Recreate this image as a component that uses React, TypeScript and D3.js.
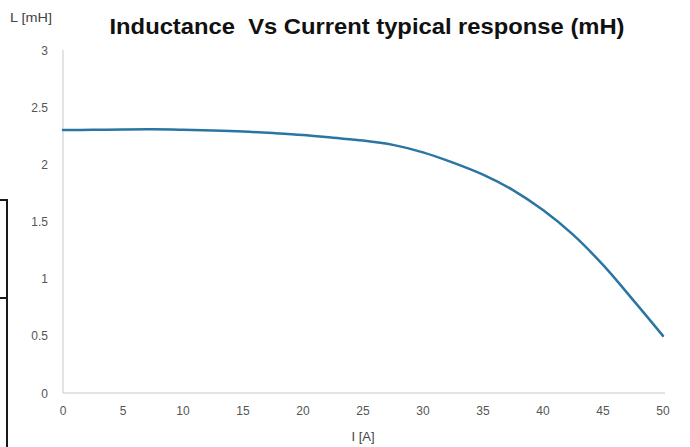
import React from "react";
import * as d3 from "d3";

const currentA = [0, 2.5, 5, 7.5, 10, 12.5, 15, 17.5, 20, 22.5, 25, 27.5, 30, 32.5, 35, 37.5, 40, 42.5, 45, 47.5, 50];
const inductanceMH = [2.3, 2.302, 2.305, 2.306, 2.302, 2.296, 2.287, 2.273, 2.256, 2.232, 2.208, 2.17, 2.105, 2.015, 1.91, 1.775, 1.6, 1.385, 1.12, 0.815, 0.5];
const xTicks = [0, 5, 10, 15, 20, 25, 30, 35, 40, 45, 50];
const yTicks = [0, 0.5, 1, 1.5, 2, 2.5, 3];
const yTickLabels = ["0", "0.5", "1", "1.5", "2", "2.5", "3"];

const W = 690;
const H = 447;
const left = 63;
const right = 663;
const top = 50;
const bottom = 393;

export default function App() {
  const x = d3.scaleLinear().domain([0, 50]).range([left, right]);
  const y = d3.scaleLinear().domain([0, 3]).range([bottom, top]);
  const data = currentA.map((c, i) => [c, inductanceMH[i]] as [number, number]);
  const line = d3
    .line<[number, number]>()
    .x((d) => x(d[0]))
    .y((d) => y(d[1]))
    .curve(d3.curveCatmullRom.alpha(0.5));
  const font = "'Liberation Sans', Arial, sans-serif";
  return (
    <svg
      width={W}
      height={H}
      style={{ position: "absolute", left: 0, top: 0, background: "#fff" }}
      fontFamily={font}
    >
      <rect x={0} y={0} width={W} height={H} fill="#fff" />
      {/* cropped border artifacts at left edge */}
      <g stroke="#1a1a1a" strokeWidth={2} fill="none">
        <line x1={0} y1={200} x2={8} y2={200} />
        <line x1={7} y1={199} x2={7} y2={447} />
        <line x1={0} y1={298} x2={8} y2={298} />
      </g>
      <text
        x={367}
        y={34}
        textAnchor="middle"
        fontSize={22}
        fontWeight="bold"
        fill="#111"
        textLength={515}
        lengthAdjust="spacingAndGlyphs"
        style={{ whiteSpace: "pre" }}
      >
        {"Inductance  Vs Current typical response (mH)"}
      </text>
      <text x={31} y={22} textAnchor="middle" fontSize={13} fill="#444" textLength={42} lengthAdjust="spacingAndGlyphs">
        L [mH]
      </text>
      {/* axes */}
      <line x1={left} y1={top} x2={left} y2={bottom} stroke="#c8c8c8" strokeWidth={1} />
      <line x1={left} y1={bottom} x2={right + 2} y2={bottom} stroke="#c8c8c8" strokeWidth={1} />
      {yTicks.map((t, i) => (
        <text key={"y" + t} x={48} y={y(t) + 4.5} textAnchor="end" fontSize={12} fill="#555">
          {yTickLabels[i]}
        </text>
      ))}
      {xTicks.map((t) => (
        <text key={"x" + t} x={x(t)} y={415} textAnchor="middle" fontSize={12} fill="#555">
          {t}
        </text>
      ))}
      <text x={363} y={441} textAnchor="middle" fontSize={13} fill="#444">
        I [A]
      </text>
      <path d={line(data) || ""} fill="none" stroke="#2a75a2" strokeWidth={2.5} strokeLinejoin="round" strokeLinecap="round" />
    </svg>
  );
}
